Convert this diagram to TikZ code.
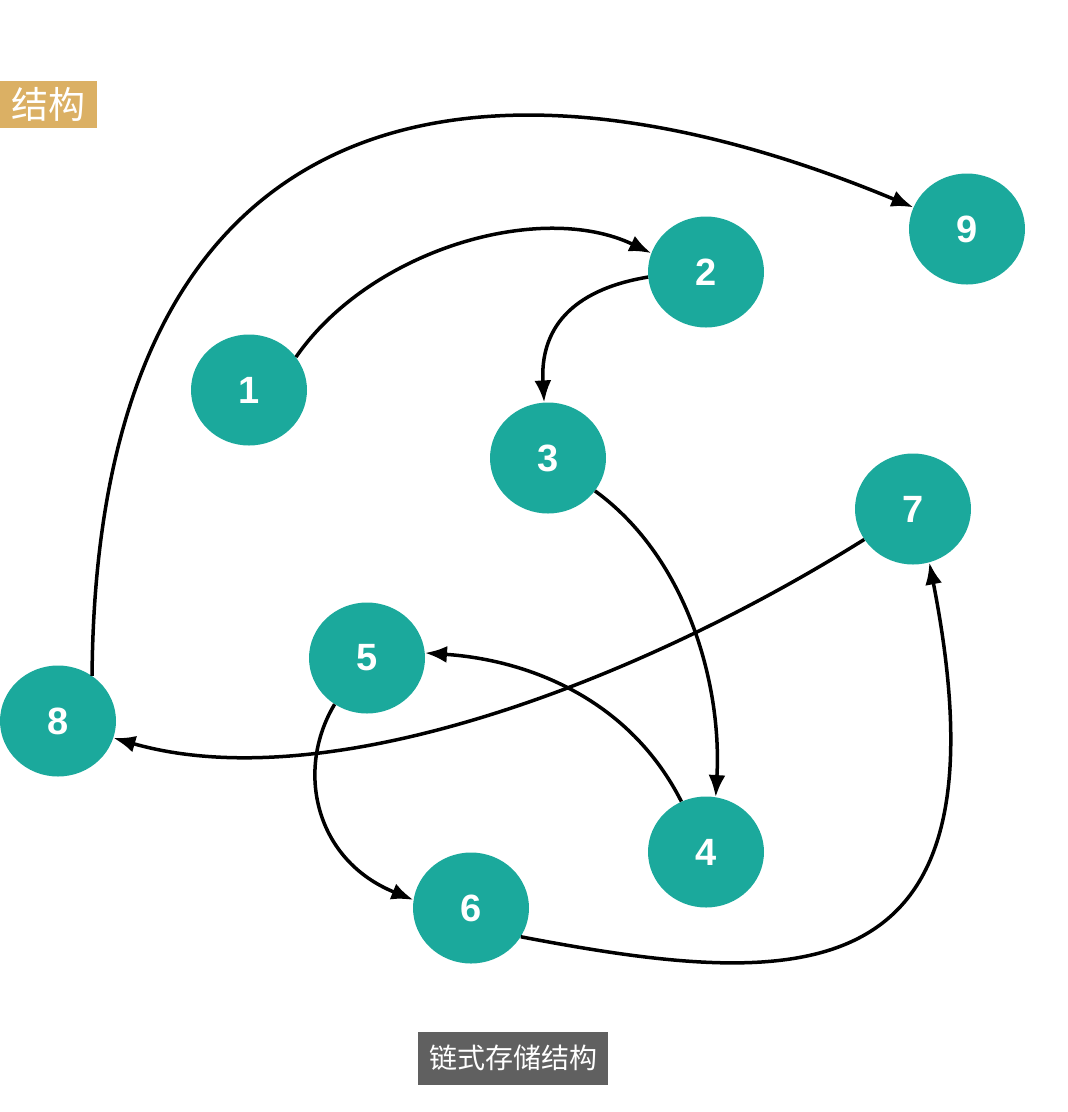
\documentclass[tikz,border=0pt]{standalone}
\usepackage{fontspec}
\setmainfont{Liberation Sans}
\newfontfamily\cjk{Noto Sans CJK SC}
\usepackage{tikz}
\usetikzlibrary{shapes.geometric,arrows.meta}

\definecolor{nodeteal}{RGB}{27,169,156}
\definecolor{tagyellow}{RGB}{219,176,100}
\definecolor{tagdark}{RGB}{96,96,96}

\begin{document}
\begin{tikzpicture}[x=1pt,y=-1pt]
	\useasboundingbox (0,0) rectangle (1068,1112);
	\tikzset{link/.style={line width=3.5pt,-{Latex[length=22pt,width=17pt]}}}
	
	\begin{scope}[every node/.style={ellipse,fill=nodeteal,text=white,inner sep=0pt,minimum width=116pt,minimum height=111pt,font=\bfseries\fontsize{38}{40}\selectfont}]
	\node (N1) at (249,390) {1};
	\node (N2) at (706,272) {2};
	\node (N3) at (548,458) {3};
	\node (N4) at (706,852) {4};
	\node (N5) at (367,658) {5};
	\node (N6) at (471,908) {6};
	\node (N7) at (913,509) {7};
	\node (N8) at (58,721) {8};
	\node (N9) at (967,229) {9};
	\end{scope}
	
	\node [fill=tagyellow,text=white,anchor=east,minimum width=97pt,minimum height=47pt,inner sep=0pt,font=\cjk\fontsize{37}{40}\selectfont] (tag) at (97,104) {结构};
	\node [fill=tagdark,text=white,minimum width=190pt,minimum height=53pt,inner sep=0pt,font=\cjk\fontsize{28}{30}\selectfont] (caption) at (513,1058) {链式存储结构};
	
	\draw [link] (N1.35) .. controls (370,250) and (540,200) .. (N2.161);
	\draw [link] (N2.185) .. controls (570,290) and (540,330) .. (N3.94);
	\draw [link] (N3.-35) .. controls (690,560) and (722,690) .. (N4.80);
	\draw [link] (N4.116) .. controls (630,700) and (530,660) .. (N5.5);
	\draw [link] (N5.-125) .. controls (295,770) and (315,860) .. (N6.172);
	\draw [link] (N6.-30) .. controls (800,990) and (1015,1000) .. (N7.-73);
	\draw [link] (N7.-148) .. controls (640,680) and (330,800) .. (N8.-17);
	\draw [link] (N8.53) .. controls (97,70) and (500,35) .. (N9.158);
\end{tikzpicture}
\end{document}
